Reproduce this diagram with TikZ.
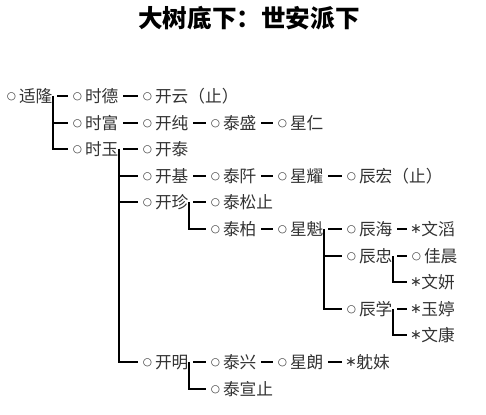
\documentclass[tikz,border=0pt]{standalone}
\usepackage{fontspec}
\newfontfamily\cjkfont{Noto Sans CJK SC}
\newfontfamily\dejavu{DejaVu Sans}
\usepackage{tikz}
\usetikzlibrary{positioning}
\newcommand\ringmark{\makebox[4.5pt]{\raisebox{1.5pt}{\dejavu\fontsize{6}{7}\selectfont ○}}\hspace{2pt}}
\newcommand\starmark{\makebox[4pt]{\raisebox{1.2pt}{\dejavu\fontsize{8}{9}\selectfont ∗}}\hspace{1pt}}

\begin{document}
\begin{tikzpicture}[x=0.02cm,y=-0.02cm,line width=0.7pt,
  person/.style={anchor=west,inner sep=0pt,text height=8.4pt,text depth=1.2pt,font=\cjkfont\fontsize{9.5}{11}\selectfont,text=black!80},
  kin/.style={shorten <=0.08cm,shorten >=0.1cm},
  branch/.style={shorten >=0.1cm}]
\useasboundingbox (0,0) rectangle (486,415);
\node[font=\cjkfont\bfseries\fontsize{14}{16}\selectfont] (title) at (249,18) {大树底下：世安派下};
\node[person] (shilong) at (7,96) {\ringmark 适隆};
\node[person] (shide) at (73,96) {\ringmark 时德};
\node[person] (kaiyun) at (143,96) {\ringmark 开云（止）};
\node[person] (shifu) at (73,123) {\ringmark 时富};
\node[person] (kaichun) at (143,123) {\ringmark 开纯};
\node[person] (taisheng) at (211,123) {\ringmark 泰盛};
\node[person] (xingren) at (278,123) {\ringmark 星仁};
\node[person] (shiyu) at (73,149) {\ringmark 时玉};
\node[person] (kaitai) at (143,149) {\ringmark 开泰};
\node[person] (kaiji) at (143,176) {\ringmark 开基};
\node[person] (taiqian) at (211,176) {\ringmark 泰阡};
\node[person] (xingyao) at (278,176) {\ringmark 星耀};
\node[person] (chenhong) at (347,176) {\ringmark 辰宏（止）};
\node[person] (kaizhen) at (143,202) {\ringmark 开珍};
\node[person] (taisong) at (211,202) {\ringmark 泰松止};
\node[person] (taibai) at (211,229) {\ringmark 泰柏};
\node[person] (xingkui) at (278,229) {\ringmark 星魁};
\node[person] (chenhai) at (347,229) {\ringmark 辰海};
\node[person] (wentao) at (412,229) {\starmark 文滔};
\node[person] (chenzhong) at (347,256) {\ringmark 辰忠};
\node[person] (jiachen) at (412,256) {\ringmark 佳晨};
\node[person] (wenyan) at (412,282) {\starmark 文妍};
\node[person] (chenxue) at (347,309) {\ringmark 辰学};
\node[person] (yuting) at (412,309) {\starmark 玉婷};
\node[person] (wenkang) at (412,335) {\starmark 文康};
\node[person] (kaiming) at (143,362) {\ringmark 开明};
\node[person] (taixing) at (211,362) {\ringmark 泰兴};
\node[person] (xinglang) at (278,362) {\ringmark 星朗};
\node[person] (danmei) at (347,362) {\starmark 躭妹};
\node[person] (taixuan) at (211,389) {\ringmark 泰宣止};
\draw[kin] (shilong.east) -- (shide.west);
\draw[branch] (shilong.east) |- (shifu.west);
\draw[branch] (shilong.east) |- (shiyu.west);
\draw[kin] (shide.east) -- (kaiyun.west);
\draw[kin] (shifu.east) -- (kaichun.west);
\draw[kin] (kaichun.east) -- (taisheng.west);
\draw[kin] (taisheng.east) -- (xingren.west);
\draw[kin] (shiyu.east) -- (kaitai.west);
\draw[branch] (shiyu.east) |- (kaiji.west);
\draw[branch] (shiyu.east) |- (kaizhen.west);
\draw[branch] (shiyu.east) |- (kaiming.west);
\draw[kin] (kaiji.east) -- (taiqian.west);
\draw[kin] (taiqian.east) -- (xingyao.west);
\draw[kin] (xingyao.east) -- (chenhong.west);
\draw[kin] (kaizhen.east) -- (taisong.west);
\draw[branch] (kaizhen.east) |- (taibai.west);
\draw[kin] (taibai.east) -- (xingkui.west);
\draw[kin] (xingkui.east) -- (chenhai.west);
\draw[branch] (xingkui.east) |- (chenzhong.west);
\draw[branch] (xingkui.east) |- (chenxue.west);
\draw[kin] (chenhai.east) -- (wentao.west);
\draw[kin] (chenzhong.east) -- (jiachen.west);
\draw[branch] (chenzhong.east) |- (wenyan.west);
\draw[kin] (chenxue.east) -- (yuting.west);
\draw[branch] (chenxue.east) |- (wenkang.west);
\draw[kin] (kaiming.east) -- (taixing.west);
\draw[branch] (kaiming.east) |- (taixuan.west);
\draw[kin] (taixing.east) -- (xinglang.west);
\draw[kin] (xinglang.east) -- (danmei.west);
\end{tikzpicture}
\end{document}
